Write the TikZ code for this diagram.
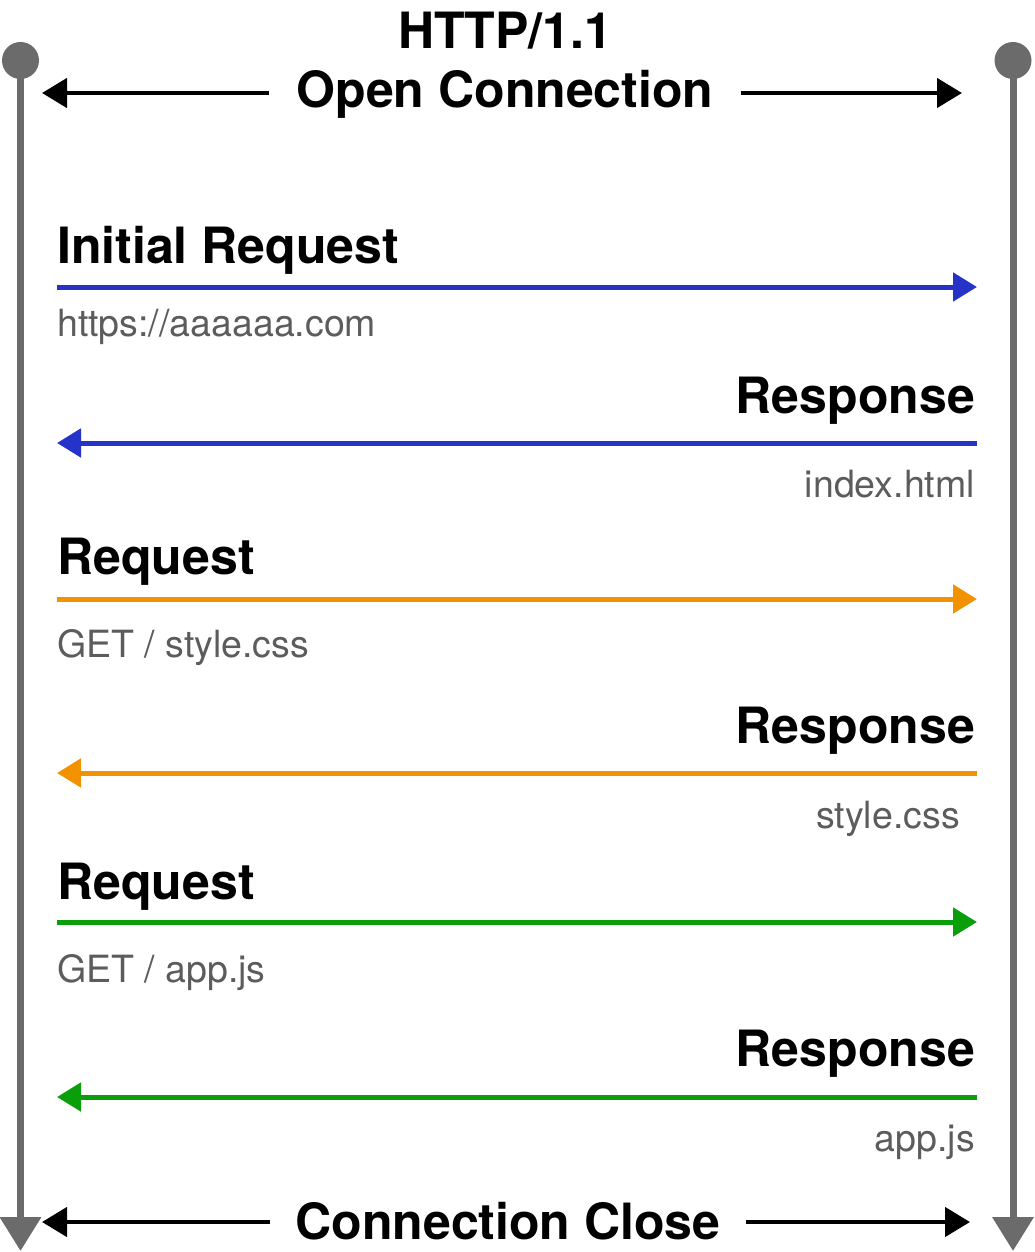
\documentclass[tikz,border=0pt]{standalone}
\usepackage{fontspec}
\setmainfont{TeX Gyre Heros}
\usetikzlibrary{arrows.meta}
\definecolor{life}{HTML}{6B6B6B}
\definecolor{subtxt}{HTML}{5C5C5C}
\definecolor{reqblue}{HTML}{2633C8}
\definecolor{reqorange}{HTML}{F39200}
\definecolor{reqgreen}{HTML}{0A9E0A}
\tikzset{
  head/.style={font=\bfseries\fontsize{50}{60}\selectfont,inner sep=0pt},
  lbl/.style={font=\bfseries\fontsize{50}{60}\selectfont,inner sep=0pt},
  sub/.style={font=\fontsize{37.5}{45}\selectfont,text=subtxt,inner sep=0pt},
  endpt/.style={circle,fill=life,minimum size=37pt,inner sep=0pt},
  lifeline/.style={line width=7pt,life,-{Triangle[length=34pt,width=40pt]}},
  conn/.style={line width=4.5pt,black,-{Triangle[length=25pt,width=29pt]}},
  msg/.style={line width=5pt,-{Triangle[length=24pt,width=28pt]}},
}
\begin{document}
\begin{tikzpicture}[x=1pt,y=-1pt]
  \useasboundingbox (0,0) rectangle (1034,1252);
  % client and server lifelines
  \node[endpt] (cl) at (20.5,60.5) {};
  \node[endpt] (sv) at (1013,60.5) {};
  \coordinate (clend) at (20.5,1251);
  \coordinate (svend) at (1013,1251);
  \draw[lifeline] (cl.center) -- (clend);
  \draw[lifeline] (sv.center) -- (svend);
  % header
  \node[head,anchor=base] (ver) at (505,49) {HTTP/1.1};
  \node[head,anchor=base,inner xsep=27pt] (open) at (505,108) {Open Connection};
  \coordinate (openl) at (42,93);
  \coordinate (openr) at (962,93);
  \draw[conn] (open.west |- openl) -- (openl);
  \draw[conn] (open.east |- openr) -- (openr);
  % requests
  \foreach \n/\y/\col/\ttl/\ty/\txt/\sy in {1/287/reqblue/Initial Request/263/{https://aaaaaa.com}/336,
      2/599/reqorange/Request/574/{GET / style.css}/657,
      3/922/reqgreen/Request/899/{GET / app.js}/982}{
    \coordinate (q\n-l) at (57,\y);
    \coordinate (q\n-r) at (977,\y);
    \node[lbl,anchor=base west] (qt\n) at (57,\ty) {\ttl};
    \node[sub,anchor=base west] (qs\n) at (57,\sy) {\txt};
    \draw[msg,\col] (q\n-l) -- (q\n-r);
  }
  % responses
  \foreach \n/\y/\col/\ty/\txt/\sx/\sy in {1/443/reqblue/413/index.html/975/497,
      2/773/reqorange/743/style.css/960/828,
      3/1097/reqgreen/1066/app.js/975/1151}{
    \coordinate (p\n-l) at (57,\y);
    \coordinate (p\n-r) at (977,\y);
    \node[lbl,anchor=base east] (pt\n) at (975,\ty) {Response};
    \node[sub,anchor=base east] (ps\n) at (\sx,\sy) {\txt};
    \draw[msg,\col] (p\n-r) -- (p\n-l);
  }
  % footer
  \node[head,anchor=base,inner xsep=25pt] (close) at (508,1239) {Connection Close};
  \coordinate (closel) at (42,1222);
  \coordinate (closer) at (970,1222);
  \draw[conn] (close.west |- closel) -- (closel);
  \draw[conn] (close.east |- closer) -- (closer);
\end{tikzpicture}
\end{document}
